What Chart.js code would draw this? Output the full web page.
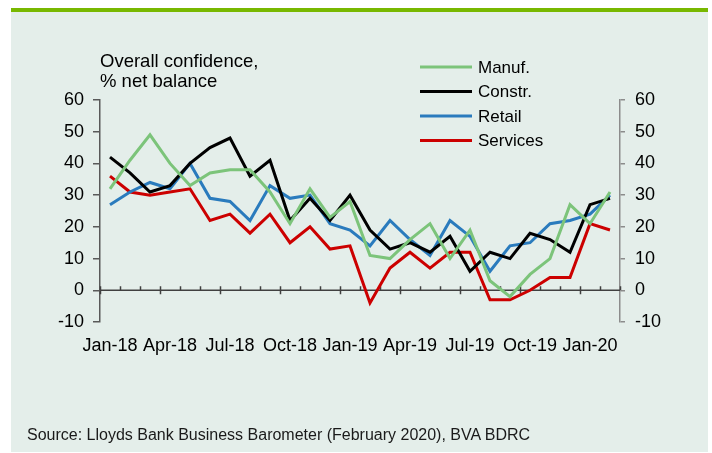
<!DOCTYPE html>
<html>
<head>
<meta charset="utf-8">
<script src="https://cdn.jsdelivr.net/npm/chart.js@4.4.1/dist/chart.umd.min.js"></script>
<style>
  body { margin: 0; background: #fff; width: 712px; height: 453px; overflow: hidden; }
  #panel { position: absolute; left: 11px; top: 8px; width: 697px; height: 444px;
           background: #e4eeea; border-top: 4px solid #78b800; box-sizing: border-box; }
  #chart { position: absolute; left: 0; top: 0; }
  .txt { position: absolute; font-family: "Liberation Sans", Arial, sans-serif; color: #000; white-space: nowrap; }
  #title { left: 100px; top: 51px; font-size: 18.5px; line-height: 20px; }
  #source { left: 27px; top: 426px; font-size: 16px; line-height: 18px; color: #1a1a1a; }
</style>
</head>
<body>
<div id="panel"></div>
<canvas id="chart" width="712" height="453"></canvas>
<div id="title" class="txt">Overall confidence,<br>% net balance</div>
<div id="source" class="txt">Source: Lloyds Bank Business Barometer (February 2020), BVA BDRC</div>
<script>
const months = ["Jan-18", "Feb-18", "Mar-18", "Apr-18", "May-18", "Jun-18", "Jul-18", "Aug-18", "Sep-18",
    "Oct-18", "Nov-18", "Dec-18", "Jan-19", "Feb-19", "Mar-19", "Apr-19", "May-19", "Jun-19", "Jul-19",
    "Aug-19", "Sep-19", "Oct-19", "Nov-19", "Dec-19", "Jan-20", "Feb-20"];
const tickLabels = ["Jan-18", "Apr-18", "Jul-18", "Oct-18", "Jan-19", "Apr-19", "Jul-19", "Oct-19", "Jan-20"];

const manuf    = [32, 41, 49, 40, 33, 37, 38, 38, 31, 21, 32, 23, 28, 11, 10, 16, 21, 10, 19, 3, -2, 5, 10, 27, 21, 31];
const constr   = [42, 37, 31, 33, 40, 45, 48, 36, 41, 22, 29, 22, 30, 19, 13, 15, 12, 17, 6, 12, 10, 18, 16, 12, 27, 29];
const retail   = [27, 31, 34, 32, 40, 29, 28, 22, 33, 29, 30, 21, 19, 14, 22, 16, 11, 22, 17, 6, 14, 15, 21, 22, 24, 30];
const services = [36, 31, 30, 31, 32, 22, 24, 18, 24, 15, 20, 13, 14, -4, 7, 12, 7, 12, 12, -3, -3, 0, 4, 4, 21, 19];

const FONT = "Liberation Sans, Arial, sans-serif";

// zero line with month ticks (majors every quarter cross the line)
const zeroAxis = {
    id: "zeroAxis",
    beforeDatasetsDraw(chart) {
        const ctx = chart.ctx, x = chart.scales.x, y = chart.scales.y;
        const y0 = y.getPixelForValue(0);
        const step = x.getPixelForValue(1) - x.getPixelForValue(0);
        ctx.save();
        ctx.strokeStyle = "#404040";
        ctx.lineWidth = 1.5;
        ctx.beginPath();
        ctx.moveTo(x.left, y0);
        ctx.lineTo(x.right, y0);
        for (let k = 0; k <= months.length; k++) {
            const px = Math.round(x.getPixelForValue(k) - step / 2) + 0.5;
            ctx.moveTo(px, y0 - 4);
            ctx.lineTo(px, k % 3 === 0 ? y0 + 4 : y0);
        }
        ctx.stroke();
        ctx.restore();
    }
};

const sideLegend = {
    id: "sideLegend",
    afterDraw(chart) {
        const ctx = chart.ctx;
        ctx.save();
        ctx.font = "17px " + FONT;
        ctx.textBaseline = "middle";
        chart.data.datasets.forEach((ds, i) => {
            const yy = 67 + i * 24.5;
            ctx.strokeStyle = ds.borderColor;
            ctx.lineWidth = 3;
            ctx.beginPath();
            ctx.moveTo(420, yy);
            ctx.lineTo(472, yy);
            ctx.stroke();
            ctx.fillStyle = "#000";
            ctx.fillText(ds.label, 478, yy + 1);
        });
        ctx.restore();
    }
};

function series(label, data, color) {
    return { label: label, data: data, borderColor: color, backgroundColor: color,
             borderWidth: 3, pointRadius: 0, tension: 0, fill: false, yAxisID: "y" };
}

new Chart(document.getElementById("chart"), {
    type: "line",
    data: {
        labels: months,
        datasets: [
            series("Manuf.", manuf, "#7cc47a"),
            series("Constr.", constr, "#000000"),
            series("Retail", retail, "#2a7bbd"),
            series("Services", services, "#cc0000")
        ]
    },
    options: {
        responsive: false,
        animation: false,
        layout: { padding: { top: 100, left: 0, right: 0, bottom: 0 } },
        plugins: { legend: { display: false }, tooltip: { enabled: false } },
        scales: {
            x: {
                type: "category",
                offset: true,
                grid: { display: false, drawTicks: false },
                border: { display: false },
                ticks: {
                    autoSkip: false, maxRotation: 0, padding: 13, color: "#000",
                    font: { family: FONT, size: 18 },
                    callback: (v, i) => tickLabels.includes(months[i]) ? months[i] : ""
                },
                afterFit: s => { s.height = 131; }
            },
            y: {
                position: "left",
                min: -10, max: 60,
                ticks: { stepSize: 10, padding: 9, color: "#000", font: { family: FONT, size: 18 } },
                grid: { drawOnChartArea: false, tickLength: 7, color: "#595959", lineWidth: 1.5 },
                border: { color: "#595959", width: 1.5 },
                afterFit: s => { s.width = 100; }
            },
            y2: {
                position: "right",
                min: -10, max: 60,
                ticks: { stepSize: 10, padding: 10, color: "#000", font: { family: FONT, size: 18 } },
                grid: { drawOnChartArea: false, tickLength: 5, color: "#8c8c8c", lineWidth: 1.5 },
                border: { color: "#8c8c8c", width: 1.5 },
                afterFit: s => { s.width = 92; }
            }
        }
    },
    plugins: [zeroAxis, sideLegend]
});
</script>
</body>
</html>
